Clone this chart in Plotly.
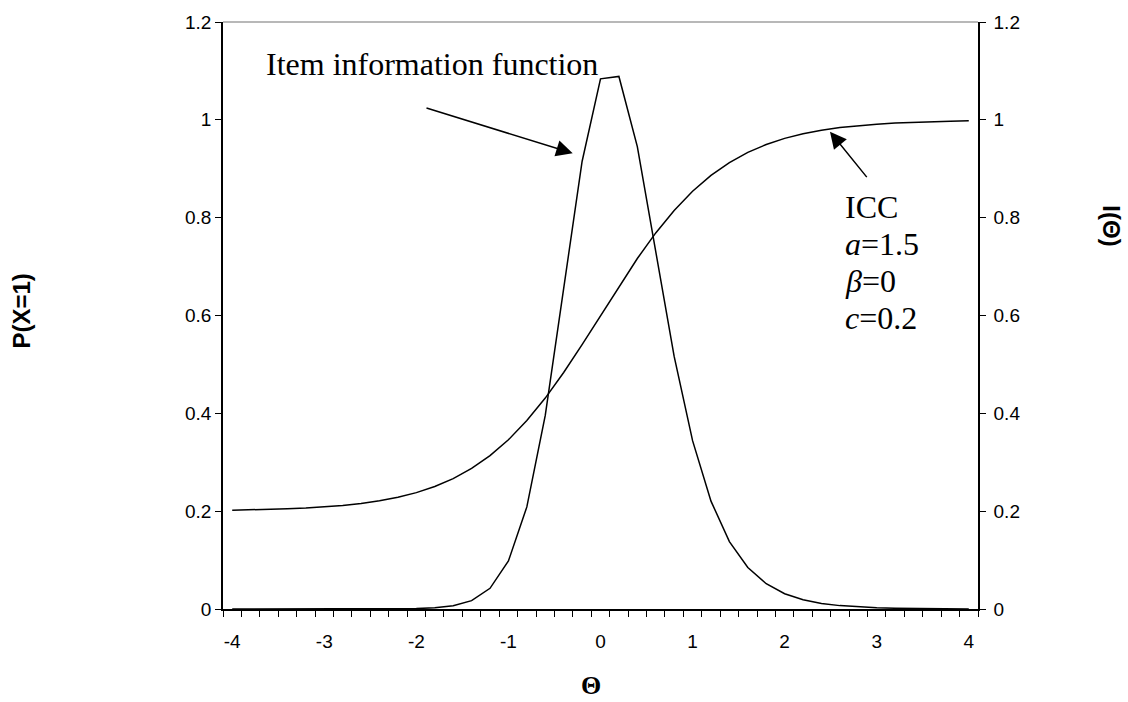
import plotly.graph_objects as go

theta = [-4.0, -3.8, -3.6, -3.4, -3.2, -3.0, -2.8, -2.6, -2.4, -2.2,
         -2.0, -1.8, -1.6, -1.4, -1.2, -1.0, -0.8, -0.6, -0.4, -0.2,
         0.0, 0.2, 0.4, 0.6, 0.8, 1.0, 1.2, 1.4, 1.6, 1.8,
         2.0, 2.2, 2.4, 2.6, 2.8, 3.0, 3.2, 3.4, 3.6, 3.8, 4.0]

icc = [0.2020, 0.2027, 0.2036, 0.2048, 0.2065, 0.2088, 0.2118, 0.2159, 0.2213, 0.2285,
       0.2379, 0.2504, 0.2665, 0.2873, 0.3135, 0.3459, 0.3852, 0.4312, 0.4835, 0.5405,
       0.6000, 0.6596, 0.7165, 0.7688, 0.8148, 0.8541, 0.8865, 0.9127, 0.9335, 0.9496,
       0.9621, 0.9715, 0.9787, 0.9841, 0.9882, 0.9912, 0.9935, 0.9952, 0.9964, 0.9973, 0.9980]

info = [0.0000, 0.0000, 0.0000, 0.0000, 0.0000, 0.0000, 0.0000, 0.0000, 0.0001, 0.0003,
        0.0009, 0.0025, 0.0066, 0.0171, 0.0423, 0.0981, 0.2087, 0.3957, 0.6518, 0.9148,
        1.0838, 1.0887, 0.9452, 0.7295, 0.5163, 0.3441, 0.2205, 0.1378, 0.0848, 0.0517,
        0.0313, 0.0189, 0.0114, 0.0069, 0.0041, 0.0025, 0.0015, 0.0009, 0.0005, 0.0003, 0.0002]

x_labels = [-4, -3, -2, -1, 0, 1, 2, 3, 4]
y_ticks = [0, 0.2, 0.4, 0.6, 0.8, 1.0, 1.2]

# plot-area geometry in pixels (for placing text annotations)
W, H = 1128, 702
L, R, T, B = 223, 978, 20, 609


def px(x):
    return (x - L) / (R - L)


def py(y):
    return (B - y) / (B - T)


SANS = "Liberation Sans, Arial, sans-serif"
SERIF = "Liberation Serif, Times New Roman, serif"

fig = go.Figure()
fig.add_trace(go.Scatter(x=theta, y=icc, mode="lines",
                         line=dict(color="black", width=1.5), yaxis="y"))
fig.add_trace(go.Scatter(x=theta, y=info, mode="lines",
                         line=dict(color="black", width=1.5), yaxis="y2"))

tickfont = dict(family=SANS, size=19, color="black")

fig.update_layout(
    width=W, height=H,
    margin=dict(l=L, r=W - R, t=T, b=H - B, pad=0),
    paper_bgcolor="white", plot_bgcolor="white",
    showlegend=False,
    xaxis=dict(range=[-4.1, 4.1], tickmode="array", tickvals=x_labels,
               ticktext=[str(v) for v in x_labels],
               ticks="outside", ticklen=6, tickcolor="rgba(0,0,0,0)",
               ticklabelstandoff=8,
               minor=dict(tickmode="linear", tick0=-4.1, dtick=0.2,
                          ticks="outside", ticklen=6, tickcolor="black", tickwidth=1.3),
               showline=True, linecolor="black", linewidth=1.5,
               showgrid=False, zeroline=False, tickfont=tickfont),
    yaxis=dict(range=[0, 1.2], tickmode="array", tickvals=y_ticks,
               ticks="outside", ticklen=6, tickcolor="black", tickwidth=1.3,
               showline=True, linecolor="black", linewidth=1.5,
               showgrid=False, zeroline=False, tickfont=tickfont),
    yaxis2=dict(range=[0, 1.2], tickmode="array", tickvals=y_ticks,
                overlaying="y", side="right",
                ticks="outside", ticklen=6, tickcolor="black", tickwidth=1.3,
                ticklabelstandoff=4,
                showline=True, linecolor="black", linewidth=1.5,
                showgrid=False, zeroline=False, tickfont=tickfont),
)

# gray top border of the plot area
fig.add_shape(type="line", xref="paper", yref="paper", x0=0, x1=1, y0=1, y1=1,
              line=dict(color="#a0a0a0", width=1.5))

ann = []
# axis titles
ann.append(dict(text="<b>P(X=1)</b>", x=px(21.5), y=py(310), xref="paper", yref="paper",
                showarrow=False, textangle=-90, xanchor="center", yanchor="middle",
                font=dict(family=SANS, size=24, color="black")))
ann.append(dict(text="<b>I(Θ)</b>",
                x=px(1112), y=py(224), xref="paper", yref="paper",
                showarrow=False, textangle=90, xanchor="center", yanchor="middle",
                font=dict(family=SANS, size=24, color="black")))
ann.append(dict(text="<b>Θ</b>", x=px(591), y=py(686), xref="paper", yref="paper",
                showarrow=False, xanchor="center", yanchor="middle",
                font=dict(family=SERIF, size=26, color="black")))

# text labels
ann.append(dict(text="Item information function", x=px(264), y=py(62), xref="paper", yref="paper",
                showarrow=False, xanchor="left", yanchor="middle",
                font=dict(family=SERIF, size=32, color="black")))
for txt, yc in [("ICC", 206), ("<i>a</i>=1.5", 243), ("<i>β</i>=0", 280), ("<i>c</i>=0.2", 317)]:
    ann.append(dict(text=txt, x=px(843), y=py(yc), xref="paper", yref="paper",
                    showarrow=False, xanchor="left", yanchor="middle",
                    font=dict(family=SERIF, size=32, color="black")))

# arrows
for tip, tail in [((572.7, 151.7), (425, 106)), ((830, 130), (868, 177))]:
    ann.append(dict(text="", x=px(tip[0]), y=py(tip[1]), xref="paper", yref="paper",
                    ax=tail[0] - tip[0], ay=tail[1] - tip[1],
                    showarrow=True, arrowhead=2, arrowsize=2.2, arrowwidth=1.5,
                    arrowcolor="black", standoff=0))

fig.update_layout(annotations=ann)

fig.write_html("out.html")
